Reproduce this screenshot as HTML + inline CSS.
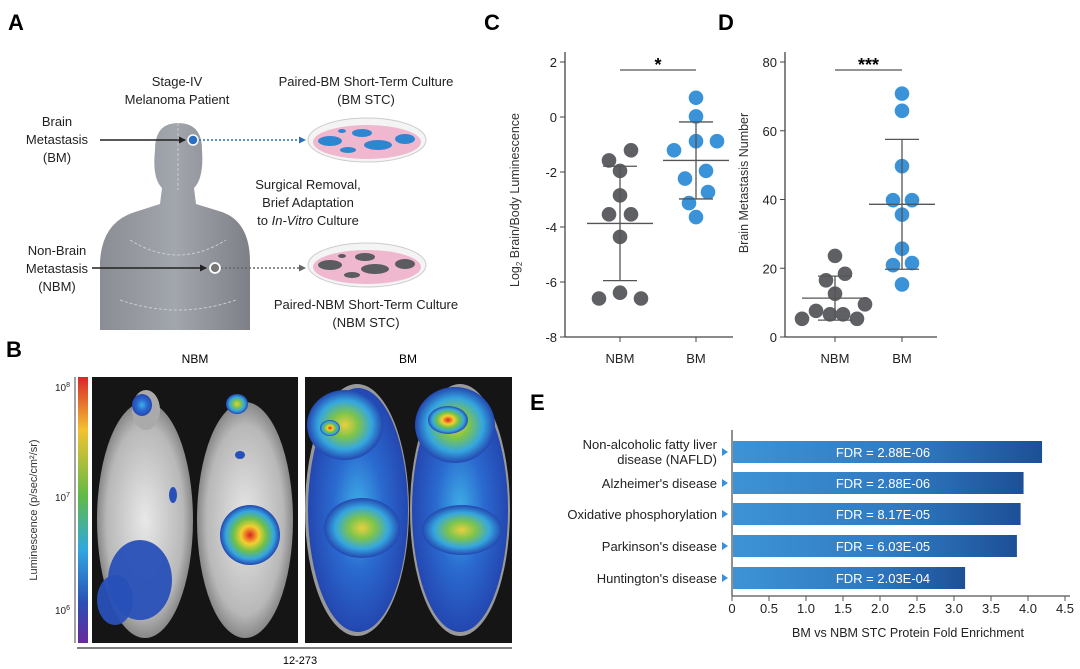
<!DOCTYPE html>
<html><head><meta charset="utf-8"><style>
html,body{margin:0;padding:0;background:#fff}
svg{display:block;font-family:"Liberation Sans",Arial,sans-serif}
</style></head><body>
<svg id="fig" width="1080" height="669" viewBox="0 0 1080 669">
<defs>
<linearGradient id="barg" x1="0" x2="1" y1="0" y2="0"><stop offset="0" stop-color="#3d93d6"/><stop offset="0.6" stop-color="#2f78c0"/><stop offset="1" stop-color="#1d4f96"/></linearGradient>
<linearGradient id="cbar" x1="0" x2="0" y1="0" y2="1"><stop offset="0" stop-color="#d9262a"/><stop offset="0.2" stop-color="#f2c230"/><stop offset="0.45" stop-color="#5fba47"/><stop offset="0.65" stop-color="#30a8e0"/><stop offset="0.85" stop-color="#2a4fb5"/><stop offset="1" stop-color="#6a2a9a"/></linearGradient>
<radialGradient id="hot"><stop offset="0" stop-color="#e02020"/><stop offset="0.3" stop-color="#f4d030"/><stop offset="0.55" stop-color="#6cc04a"/><stop offset="0.8" stop-color="#35a6e0"/><stop offset="1" stop-color="#2447b0"/></radialGradient>
<radialGradient id="warm"><stop offset="0" stop-color="#e8d040"/><stop offset="0.35" stop-color="#7cc44c"/><stop offset="0.7" stop-color="#35a6e0"/><stop offset="1" stop-color="#2447b0"/></radialGradient>
<radialGradient id="cool"><stop offset="0" stop-color="#3fb0e6"/><stop offset="0.5" stop-color="#2a6ad0"/><stop offset="1" stop-color="#2447b0"/></radialGradient>
<radialGradient id="mouse"><stop offset="0" stop-color="#e8e8e8"/><stop offset="0.8" stop-color="#b8b8b8"/><stop offset="1" stop-color="#888"/></radialGradient>
<linearGradient id="skin" x1="0" x2="1"><stop offset="0" stop-color="#8a8d93"/><stop offset="0.5" stop-color="#a2a6ad"/><stop offset="1" stop-color="#7d8087"/></linearGradient>
</defs>

<text x="8" y="30" font-size="22" font-weight="bold">A</text>
<text x="484" y="30" font-size="22" font-weight="bold">C</text>
<text x="718" y="30" font-size="22" font-weight="bold">D</text>
<text x="6" y="357" font-size="22" font-weight="bold">B</text>
<text x="530" y="410" font-size="22" font-weight="bold">E</text>

<g font-size="13" fill="#222" text-anchor="middle">
 <path d="M100,330 L100,262 Q102,222 135,212 L160,204 L162,188 Q152,178 155,150 Q155,123 178,123 Q202,123 202,150 Q204,178 194,188 L196,204 L222,212 Q250,222 250,262 L250,330 Z" fill="url(#skin)"/>
 <path d="M178,123 L178,190 M130,240 Q178,270 226,240 M120,300 Q178,320 236,300" stroke="#c8ccd2" stroke-width="1" stroke-dasharray="3,2" fill="none"/>
 <text x="177" y="86">Stage-IV</text><text x="177" y="104">Melanoma Patient</text>
 <text x="366" y="86">Paired-BM Short-Term Culture</text><text x="366" y="104">(BM STC)</text>
 <text x="57" y="126">Brain</text><text x="57" y="144">Metastasis</text><text x="57" y="162">(BM)</text>
 <text x="308" y="189">Surgical Removal,</text><text x="308" y="207">Brief Adaptation</text><text x="308" y="225">to <tspan font-style="italic">In-Vitro</tspan> Culture</text>
 <text x="57" y="255">Non-Brain</text><text x="57" y="273">Metastasis</text><text x="57" y="291">(NBM)</text>
 <text x="366" y="309">Paired-NBM Short-Term Culture</text><text x="366" y="327">(NBM STC)</text>
 <line x1="100" y1="140" x2="185" y2="140" stroke="#222" stroke-width="1.5"/><path d="M186,140 l-7,-3.5 v7 z" fill="#222"/>
 <circle cx="193" cy="140" r="5" fill="#2c6fc0" stroke="#fff" stroke-width="1.5"/>
 <line x1="199" y1="140" x2="300" y2="140" stroke="#2c6fc0" stroke-width="1.5" stroke-dasharray="2,2"/><path d="M306,140 l-7,-3.5 v7 z" fill="#2c6fc0"/>
 <line x1="92" y1="268" x2="206" y2="268" stroke="#222" stroke-width="1.5"/><path d="M207,268 l-7,-3.5 v7 z" fill="#222"/>
 <circle cx="215" cy="268" r="5" fill="#777" stroke="#fff" stroke-width="1.8"/>
 <line x1="221" y1="268" x2="300" y2="268" stroke="#666" stroke-width="1.5" stroke-dasharray="2,2"/><path d="M306,268 l-7,-3.5 v7 z" fill="#666"/>
 <g>
  <ellipse cx="367" cy="140" rx="59" ry="22" fill="#f4f4f4" stroke="#ccc"/>
  <ellipse cx="367" cy="142" rx="54" ry="17" fill="#f0b8cf"/>
  <g fill="#2f86d0"><ellipse cx="330" cy="141" rx="12" ry="5"/><ellipse cx="362" cy="133" rx="10" ry="4"/><ellipse cx="378" cy="145" rx="14" ry="5"/><ellipse cx="405" cy="139" rx="10" ry="5"/><ellipse cx="348" cy="150" rx="8" ry="3"/><ellipse cx="342" cy="131" rx="4" ry="2"/></g>
 </g>
 <g>
  <ellipse cx="367" cy="265" rx="59" ry="22" fill="#f4f4f4" stroke="#ccc"/>
  <ellipse cx="367" cy="267" rx="54" ry="17" fill="#f0b8cf"/>
  <g fill="#5a5c60"><ellipse cx="330" cy="265" rx="12" ry="5"/><ellipse cx="365" cy="257" rx="10" ry="4"/><ellipse cx="375" cy="269" rx="14" ry="5"/><ellipse cx="405" cy="264" rx="10" ry="5"/><ellipse cx="352" cy="275" rx="8" ry="3"/><ellipse cx="342" cy="256" rx="4" ry="2"/></g>
 </g>
</g>

<g>
 <rect x="78" y="377" width="10" height="266" fill="url(#cbar)"/>
 <line x1="75" y1="377" x2="75" y2="643" stroke="#444"/>
 <g font-size="10" text-anchor="end" fill="#222">
  <text x="70" y="391">10<tspan font-size="7" dy="-4">8</tspan></text>
  <text x="70" y="501">10<tspan font-size="7" dy="-4">7</tspan></text>
  <text x="70" y="614">10<tspan font-size="7" dy="-4">6</tspan></text>
 </g>
 <text transform="translate(37,510) rotate(-90)" font-size="11" text-anchor="middle" fill="#333">Luminescence (p/sec/cm²/sr)</text>
 <text x="195" y="363" font-size="12" text-anchor="middle">NBM</text>
 <text x="408" y="363" font-size="12" text-anchor="middle">BM</text>
 <rect x="92" y="377" width="206" height="266" fill="#151515"/>
 <rect x="305" y="377" width="207" height="266" fill="#151515"/>
 <ellipse cx="145" cy="520" rx="48" ry="118" fill="url(#mouse)"/>
 <ellipse cx="146" cy="410" rx="14" ry="20" fill="#aaa"/>
 <ellipse cx="142" cy="405" rx="10" ry="11" fill="url(#cool)"/>
 <ellipse cx="140" cy="580" rx="32" ry="40" fill="#2850b8" opacity="0.95"/>
 <ellipse cx="115" cy="600" rx="18" ry="25" fill="#2850b8" opacity="0.95"/>
 <ellipse cx="173" cy="495" rx="4" ry="8" fill="#2850b8"/>
 <ellipse cx="245" cy="520" rx="48" ry="118" fill="url(#mouse)"/>
 <ellipse cx="237" cy="404" rx="11" ry="10" fill="url(#warm)"/>
 <circle cx="250" cy="535" r="30" fill="url(#hot)"/>
 <ellipse cx="240" cy="455" rx="5" ry="4" fill="#2850b8"/>
 <ellipse cx="357" cy="510" rx="52" ry="126" fill="#999"/>
 <ellipse cx="358" cy="510" rx="50" ry="122" fill="url(#cool)"/>
 <ellipse cx="345" cy="425" rx="38" ry="35" fill="url(#warm)"/>
 <ellipse cx="330" cy="428" rx="10" ry="8" fill="url(#hot)"/>
 <ellipse cx="362" cy="528" rx="38" ry="30" fill="url(#warm)"/>
 <ellipse cx="460" cy="510" rx="50" ry="126" fill="#999"/>
 <ellipse cx="460" cy="510" rx="48" ry="122" fill="url(#cool)"/>
 <ellipse cx="455" cy="425" rx="40" ry="38" fill="url(#warm)"/>
 <ellipse cx="448" cy="420" rx="20" ry="14" fill="url(#hot)"/>
 <ellipse cx="462" cy="530" rx="40" ry="25" fill="url(#warm)"/>
 <line x1="77" y1="648" x2="512" y2="648" stroke="#555" stroke-width="1.5"/>
 <text x="300" y="664" font-size="11" text-anchor="middle">12-273</text>
</g>

<g id="panelC"></g>
<g id="panelD"></g>
<g id="panelE"></g>
</svg>
<script>
const NS='http://www.w3.org/2000/svg';
// Panel C data
const cCategories=['NBM','BM'];
const cNBM=[-1.21,-1.58,-1.96,-2.85,-3.54,-3.54,-4.36,-6.6,-6.39,-6.6];
const cBM=[0.7,0.02,-1.21,-0.88,-0.88,-2.24,-1.96,-2.73,-3.13,-3.64];
const cNBMJitter=[11,-11,0,0,-11,11,0,-21,0,21];
const cBMJitter=[0,0,-22,0,21,-11,10,12,-7,0];
const cMeanSD=[[-3.87,2.08],[-1.58,1.40]];
const cTicks=[2,0,-2,-4,-6,-8];
// Panel D data
const dCategories=['NBM','BM'];
const dNBM=[5.3,7.6,6.6,6.6,5.3,9.5,12.6,16.5,18.4,23.6];
const dBM=[70.8,65.8,49.7,39.8,39.8,35.6,25.7,20.9,21.5,15.3];
const dNBMJitter=[-33,-19,-5,8,22,30,0,-9,10,0];
const dBMJitter=[0,0,0,-9,10,0,0,-9,10,0];
const dMeanSD=[[11.3,6.4],[38.6,18.9]];
const dTicks=[0,20,40,60,80];
// Panel E data
const eCategories=[['Non-alcoholic fatty liver','disease (NAFLD)'],["Alzheimer's disease"],['Oxidative phosphorylation'],["Parkinson's disease"],["Huntington's disease"]];
const eValues=[4.19,3.94,3.90,3.85,3.15];
const eFDR=['FDR = 2.88E-06','FDR = 2.88E-06','FDR = 8.17E-05','FDR = 6.03E-05','FDR = 2.03E-04'];
const eTicks=['0','0.5','1.0','1.5','2.0','2.5','3.0','3.5','4.0','4.5'];

function mk(p,tag,attrs,text){const e=document.createElementNS(NS,tag);for(const k in attrs)e.setAttribute(k,attrs[k]);if(text!==undefined)e.textContent=text;p.appendChild(e);return e;}

function scatter(g,o){
 const y=v=>o.y0+(v-o.vmin)/(o.vmax-o.vmin)*(o.y1-o.y0);
 const xs=[o.xa,o.xb];
 mk(g,'line',{x1:o.ax,y1:o.top,x2:o.ax,y2:o.y0,stroke:'#444','stroke-width':1.3});
 mk(g,'line',{x1:o.ax,y1:o.y0,x2:o.xend,y2:o.y0,stroke:'#444','stroke-width':1.3});
 o.ticks.forEach(t=>{mk(g,'line',{x1:o.ax-5,y1:y(t),x2:o.ax,y2:y(t),stroke:'#444'});
  const tl=mk(g,'text',{x:o.ax-8,y:y(t)+5,'font-size':13,'text-anchor':'end',fill:'#222'},String(t));
  
  });
 o.cats.forEach((c,i)=>{mk(g,'line',{x1:xs[i],y1:o.y0,x2:xs[i],y2:o.y0+5,stroke:'#444'});
  const cl=mk(g,'text',{x:xs[i],y:o.y0+26,'font-size':13,'text-anchor':'middle',fill:'#222'},c);
  
  });
 const tt=mk(g,'text',{transform:`translate(${o.tx},${o.ty}) rotate(-90)`,'font-size':12.5,'text-anchor':'middle',fill:'#333'});
 
 
 tt.innerHTML=o.title;
 [o.a,o.b].forEach((vals,i)=>{
  const col=i?'#3a93d8':'#5f6063';const jit=i?o.jb:o.ja;
  vals.forEach((v,k)=>{const c=mk(g,'circle',{cx:xs[i]+jit[k],cy:y(v),r:7.3,fill:col});
   
   });
 });
 o.msd.forEach((m,i)=>{const x=xs[i];
  mk(g,'line',{x1:x,y1:y(m[0]+m[1]),x2:x,y2:y(m[0]-m[1]),stroke:'#555','stroke-width':1.3});
  mk(g,'line',{x1:x-33,y1:y(m[0]),x2:x+33,y2:y(m[0]),stroke:'#555','stroke-width':1.3});
  mk(g,'line',{x1:x-17,y1:y(m[0]+m[1]),x2:x+17,y2:y(m[0]+m[1]),stroke:'#555','stroke-width':1.3});
  mk(g,'line',{x1:x-17,y1:y(m[0]-m[1]),x2:x+17,y2:y(m[0]-m[1]),stroke:'#555','stroke-width':1.3});
 });
 mk(g,'line',{x1:xs[0],y1:70,x2:xs[1],y2:70,stroke:'#555','stroke-width':1.3});
 const s=mk(g,'text',{x:(xs[0]+xs[1])/2,y:71,'font-size':18,'font-weight':'bold','text-anchor':'middle'},o.sig);
 
 
}
scatter(document.getElementById('panelC'),{ax:565,top:52,y0:337,y1:62,vmin:-8,vmax:2,xa:620,xb:696,xend:733,ticks:cTicks,cats:cCategories,a:cNBM,b:cBM,ja:cNBMJitter,jb:cBMJitter,msd:cMeanSD,sig:'*',tx:519,ty:200,title:'Log<tspan font-size="8" dy="3">2</tspan><tspan dy="-3"> Brain/Body Luminescence</tspan>'});
scatter(document.getElementById('panelD'),{ax:785,top:52,y0:337,y1:62,vmin:0,vmax:80,xa:835,xb:902,xend:937,ticks:dTicks,cats:dCategories,a:dNBM,b:dBM,ja:dNBMJitter,jb:dBMJitter,msd:dMeanSD,sig:'***',tx:748,ty:183,title:'Brain Metastasis Number'});

(function(){
 const g=document.getElementById('panelE');
 const x=v=>732+v*74; const yc=[452,483,514,546,578];
 mk(g,'line',{x1:732,y1:430,x2:732,y2:596,stroke:'#555','stroke-width':1.3});
 mk(g,'line',{x1:732,y1:596,x2:1070,y2:596,stroke:'#555','stroke-width':1.3});
 eTicks.forEach((t,i)=>{const xx=x(parseFloat(t));mk(g,'line',{x1:xx,y1:596,x2:xx,y2:601,stroke:'#555'});
  const tl=mk(g,'text',{x:xx,y:613,'font-size':13,'text-anchor':'middle',fill:'#222'},t);
  
  });
 const at=mk(g,'text',{x:908,y:637,'font-size':12.5,'text-anchor':'middle',fill:'#222'},'BM vs NBM STC Protein Fold Enrichment');
 
 
 eValues.forEach((v,i)=>{const y=yc[i];
  const r=mk(g,'rect',{x:733,y:y-11,width:x(v)-733,height:22,fill:'url(#barg)'});
  
  
  const f=mk(g,'text',{x:883,y:y+5,'font-size':13,'text-anchor':'middle',fill:'#fff'},eFDR[i]);
  
  
  mk(g,'path',{d:`M722,${y-4} l6,4 l-6,4 z`,fill:'#3a8fd6'});
  const lines=eCategories[i];
  lines.forEach((ln,k)=>{const ty=lines.length>1?y-3+k*15:y+5;
   const l=mk(g,'text',{x:717,y:ty,'font-size':13,'text-anchor':'end',fill:'#222'},ln);
   
   });
 });
})();
</script>
</body></html>
